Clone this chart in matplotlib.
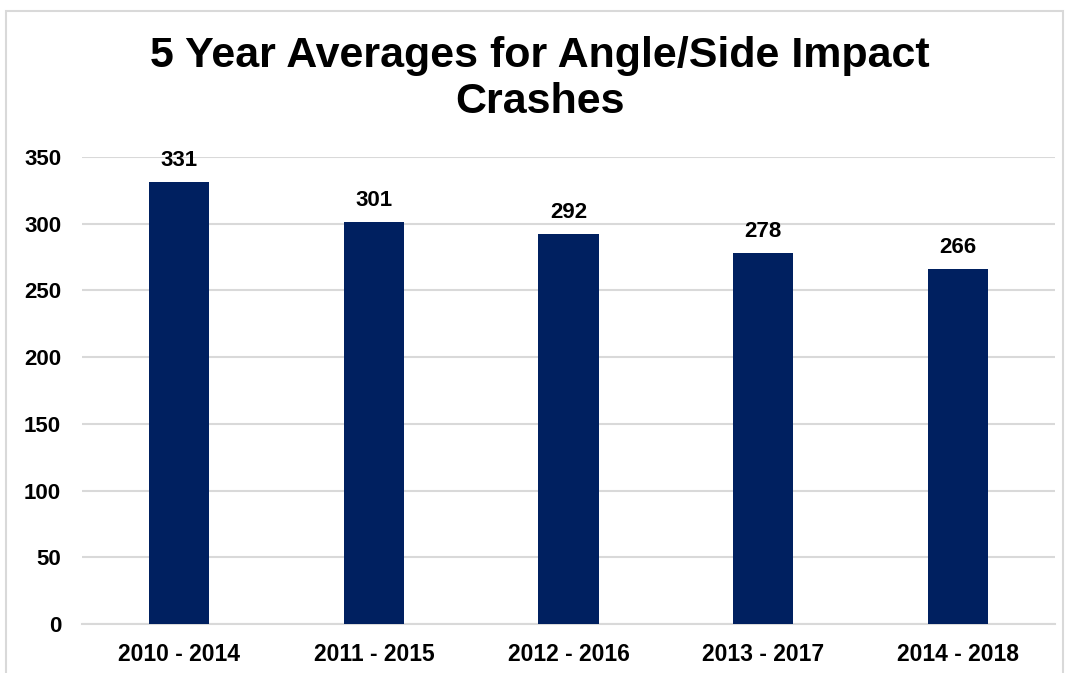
import matplotlib.pyplot as plt
from matplotlib.patches import Rectangle

# ── Data ──────────────────────────────────────────────
periods = ["2010 - 2014", "2011 - 2015", "2012 - 2016", "2013 - 2017", "2014 - 2018"]
averages = [331, 301, 292, 278, 266]
y_ticks = [0, 50, 100, 150, 200, 250, 300, 350]

plt.rcParams["font.family"] = ["Liberation Sans", "DejaVu Sans"]
plt.rcParams["font.weight"] = "bold"

BAR = "#002060"
GRID = "#d9d9d9"

fig = plt.figure(figsize=(10.69, 6.73), dpi=100)
ax = fig.add_axes([82 / 1069, 1 - 624 / 673, (1055 - 82) / 1069, (624 - 157) / 673])

x = list(range(len(periods)))
bars = ax.bar(x, averages, width=0.31, color=BAR, zorder=3)
ax.bar_label(bars, labels=[str(v) for v in averages], padding=8,
             fontsize=16, fontweight="bold", color="black")

ax.set_xlim(-0.5, len(periods) - 0.5)
ax.set_ylim(0, 350)
ax.set_yticks(y_ticks)
ax.set_xticks(x)
ax.set_xticklabels(periods)
ax.tick_params(axis="both", length=0, colors="black")
ax.tick_params(axis="y", pad=15, labelsize=16)
ax.tick_params(axis="x", pad=14, labelsize=16.5)
ax.grid(axis="y", color=GRID, linewidth=1.5, zorder=0)
ax.set_axisbelow(True)
for s in ("top", "right", "left"):
    ax.spines[s].set_visible(False)
ax.spines["bottom"].set_color(GRID)
ax.spines["bottom"].set_linewidth(1.5)

fig.text(0.505, 1 - 79 / 673, "5 Year Averages for Angle/Side Impact\nCrashes",
         ha="center", va="center", fontsize=31, fontweight="bold",
         linespacing=1.22)

# light chart-area frame
fig.patches.append(Rectangle((6 / 1069, -0.05), (1063 - 6) / 1069, 1.05 - 11 / 673,
                             transform=fig.transFigure, fill=False,
                             edgecolor=GRID, linewidth=1.5))

fig.savefig("out.png", dpi=100)
